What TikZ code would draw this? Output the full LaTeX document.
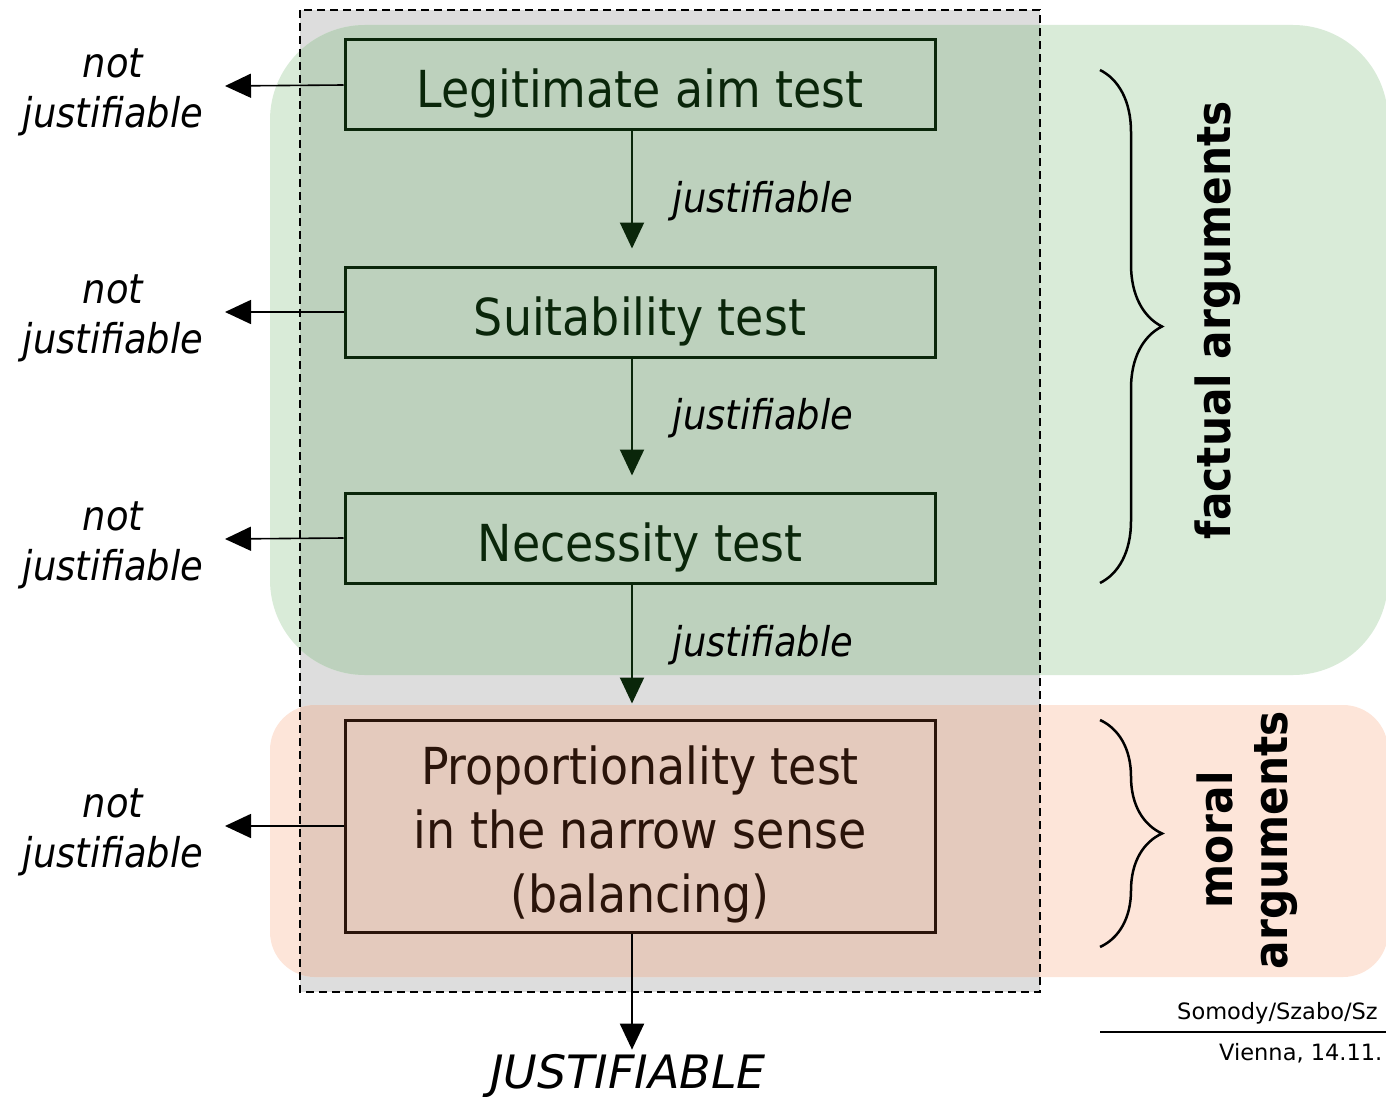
\documentclass[tikz,border=0pt]{standalone}
\usepackage{fontspec}
\setmainfont{DejaVu Sans Condensed}
\newfontfamily\vfont{DejaVu Sans}
\usetikzlibrary{arrows.meta,decorations.pathreplacing}
\definecolor{lgreen}{HTML}{D9EBD8}
\definecolor{dgreen}{HTML}{BDD1BD}
\definecolor{lgray}{HTML}{DDDDDD}
\definecolor{lpeach}{HTML}{FDE5D9}
\definecolor{dpeach}{HTML}{E4CABD}
\definecolor{gline}{HTML}{0A260A}
\definecolor{bline}{HTML}{2A140A}
\tikzset{
  testbox/.style={draw=gline, line width=3pt, minimum width=590pt, minimum height=90pt, inner sep=0pt, text=gline, font=\fontsize{51}{64}\selectfont, align=center, text height=46pt, text depth=0pt},
  arr/.style={draw=gline, line width=2pt, -{Triangle[length=26pt,width=24pt]}},
  lab/.style={font=\itshape\fontsize{41}{50}\selectfont, inner sep=0pt, align=center},
  brc/.style={draw=black, line width=2.5pt, decorate, decoration={brace, amplitude=62pt}},
  foot/.style={anchor=base west, inner sep=0pt, font=\vfont\fontsize{22.5}{28}\selectfont},
}
\begin{document}
\begin{tikzpicture}[x=1pt,y=-1pt]
\useasboundingbox (0,0) rectangle (1386,1097);
\clip (0,0) rectangle (1386,1097);
% backgrounds
\fill[lgray] (300,10) rectangle (1040,992);
\fill[lgreen, rounded corners=95pt] (270,25) rectangle (1388,675);
\fill[lpeach, rounded corners=45pt] (270,705) rectangle (1388,977);
\begin{scope}
  \clip (300,10) rectangle (1040,992);
  \fill[dgreen, rounded corners=95pt] (270,25) rectangle (1388,675);
  \fill[dpeach, rounded corners=45pt] (270,705) rectangle (1388,977);
\end{scope}
\draw[black, line width=2.5pt, dash pattern=on 8pt off 5pt] (300,10) rectangle (1040,992);
% boxes
\node[testbox] (b1) at (640,85) {Legitimate aim test};
\node[testbox] (b2) at (640,312) {Suitability test};
\node[testbox] (b3) at (640,538) {Necessity test};
\node[testbox, draw=bline, text=bline, minimum height=212pt, text height=172pt] (b4) at (640,826) {Proportionality test\\in the narrow sense\\(balancing)};
\node[anchor=base, font=\vfont\itshape\fontsize{46}{55}\selectfont, inner sep=0pt] (fin) at (628,1088) {JUSTIFIABLE};
% vertical arrows
\draw[arr] ([xshift=-8pt]b1.south) -- ([xshift=-8pt]b2.north) [shorten >=17pt];
\draw[arr] ([xshift=-8pt]b2.south) -- ([xshift=-8pt]b3.north) [shorten >=16pt];
\draw[arr] ([xshift=-8pt]b3.south) -- ([xshift=-8pt]b4.north) [shorten >=15pt];
\draw[arr, draw=black] ([xshift=-8pt]b4.south) -- (fin.north -| 632,0) [shorten >=4pt];
\node[lab] (j1) at (763,201) {justifiable};
\node[lab] (j2) at (763,418) {justifiable};
\node[lab] (j3) at (763,645) {justifiable};
% left labels
\node[lab] (n1) at (113,92) {not\\justifiable};
\node[lab] (n2) at (113,318) {not\\justifiable};
\node[lab] (n3) at (113,545) {not\\justifiable};
\node[lab] (n4) at (113,832) {not\\justifiable};
\coordinate (t1) at (225,86);
\coordinate (t2) at (225,312);
\coordinate (t3) at (225,539);
\coordinate (t4) at (225,826);
\draw[arr, draw=black, line width=1.6pt] (b1.west) -- (t1);
\draw[arr, draw=black, line width=1.6pt] (b2.west) -- (t2);
\draw[arr, draw=black, line width=1.6pt] (b3.west) -- (t3);
\draw[arr, draw=black, line width=1.6pt] (b4.west) -- (t4);
% braces
\coordinate (fa) at (1100,70);
\coordinate (fb) at (1100,583);
\coordinate (ma) at (1100,720);
\coordinate (mb) at (1100,947);
\draw[brc] (fa) -- (fb);
\draw[brc] (ma) -- (mb);
\node[rotate=90, font=\bfseries\fontsize{47}{55}\selectfont, inner sep=0pt] (fact) at (1218,320) {factual arguments};
\node[rotate=90, align=center, font=\bfseries\fontsize{47}{55}\selectfont, inner sep=0pt] (moral) at (1247,840) {moral\\arguments};
% footer
\node[foot] (au) at (1177,1019) {Somody/Szabo/Sz};
\node[foot] (vi) at (1219,1060) {Vienna, 14.11.};
\coordinate (la) at (1100,1032);
\coordinate (lb) at (1386,1032);
\draw[black, line width=2pt] (la) -- (lb);
\end{tikzpicture}
\end{document}
